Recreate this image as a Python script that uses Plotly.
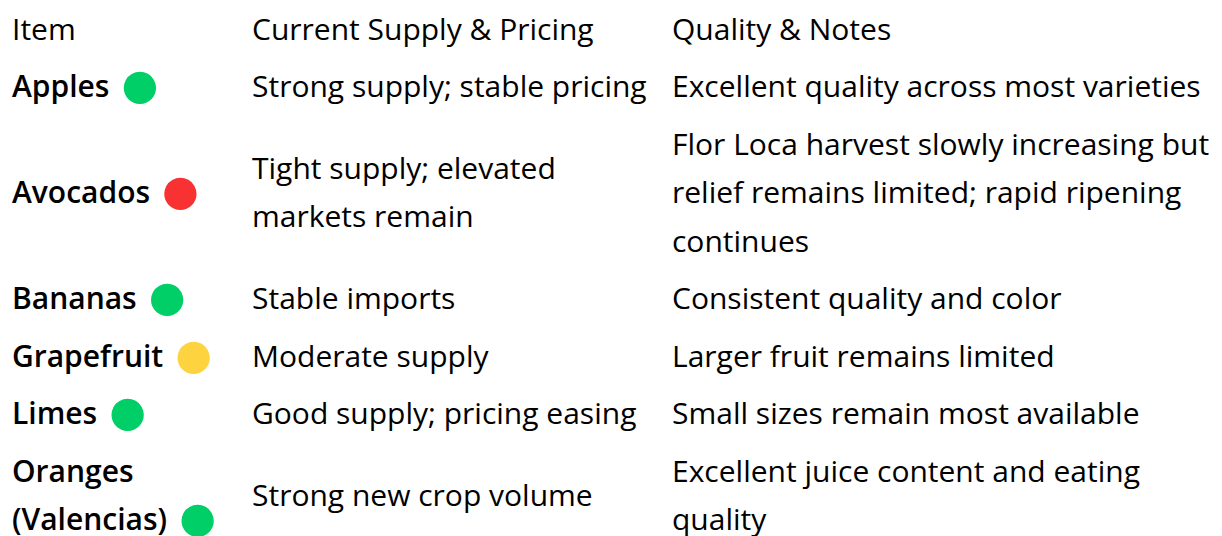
import plotly.graph_objects as go

# ---------------- data ----------------
headers = ["Item", "Current Supply & Pricing", "Quality & Notes"]
items = ["Apples", "Avocados", "Bananas", "Grapefruit", "Limes", "Oranges (Valencias)"]
status = ["good", "tight", "good", "moderate", "good", "good"]
supply = [
    "Strong supply; stable pricing",
    "Tight supply; elevated markets remain",
    "Stable imports",
    "Moderate supply",
    "Good supply; pricing easing",
    "Strong new crop volume",
]
quality = [
    "Excellent quality across most varieties",
    "Flor Loca harvest slowly increasing but relief remains limited; rapid ripening continues",
    "Consistent quality and color",
    "Larger fruit remains limited",
    "Small sizes remain most available",
    "Excellent juice content and eating quality",
]
# where the rendered table wraps each cell (lines as displayed)
item_lines = [["Apples"], ["Avocados"], ["Bananas"], ["Grapefruit"], ["Limes"], ["Oranges", "(Valencias)"]]
supply_lines = [
    ["Strong supply; stable pricing"],
    ["Tight supply; elevated", "markets remain"],
    ["Stable imports"],
    ["Moderate supply"],
    ["Good supply; pricing easing"],
    ["Strong new crop volume"],
]
quality_lines = [
    ["Excellent quality across most varieties"],
    ["Flor Loca harvest slowly increasing but", "relief remains limited; rapid ripening", "continues"],
    ["Consistent quality and color"],
    ["Larger fruit remains limited"],
    ["Small sizes remain most available"],
    ["Excellent juice content and eating", "quality"],
]

# ---------------- style ----------------
W, H = 1222, 536
FONT = "Open Sans"
FS = 30
COL_X = [4, 244, 664]
HEADER_Y = 24
ROW_PITCH = 57.5
LINE_H = 48.5
STATUS_COLORS = {"good": "#00cf68", "tight": "#f83232", "moderate": "#fdd43f"}
DOT = "<span style='font-size:75px;baseline-shift:-12px;color:{c}'>●</span>"

fig = go.Figure()

# header
fig.add_trace(go.Scatter(
    x=COL_X, y=[HEADER_Y] * 3, text=headers, mode="text",
    textposition="middle right",
    textfont=dict(family=FONT, size=FS, color="#000000"),
    hoverinfo="skip", showlegend=False, cliponaxis=False,
))

# body rows
tx = {0: ([], [], []), 1: ([], [], []), 2: ([], [], [])}
start = HEADER_Y + ROW_PITCH
for i in range(len(items)):
    cols = [item_lines[i], supply_lines[i], quality_lines[i]]
    n = max(len(c) for c in cols)
    for ci, lines in enumerate(cols):
        off = (n - len(lines)) * LINE_H / 2
        for k, ln in enumerate(lines):
            t = ln
            if ci == 0 and k == len(lines) - 1:
                t = ln + " " + DOT.format(c=STATUS_COLORS[status[i]])
            tx[ci][0].append(COL_X[ci])
            tx[ci][1].append(start + off + k * LINE_H)
            tx[ci][2].append(t)
    start += (n - 1) * LINE_H + ROW_PITCH

for ci in range(3):
    fig.add_trace(go.Scatter(
        x=tx[ci][0], y=tx[ci][1], text=tx[ci][2], mode="text",
        textposition="middle right",
        textfont=dict(family=FONT, size=FS, color="#000000",
                      weight=600 if ci == 0 else 400),
        hoverinfo="skip", showlegend=False, cliponaxis=False,
    ))

fig.update_layout(
    width=W, height=H,
    margin=dict(l=0, r=0, t=0, b=0),
    paper_bgcolor="white", plot_bgcolor="white",
    xaxis=dict(range=[0, W], visible=False, fixedrange=True),
    yaxis=dict(range=[H, 0], visible=False, fixedrange=True),
)

fig.write_html("out.html")
